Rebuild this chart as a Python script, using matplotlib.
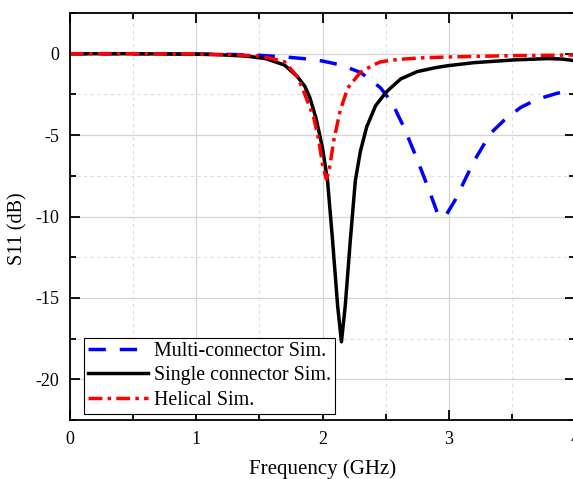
import numpy as np
import matplotlib
matplotlib.use("Agg")
import matplotlib.pyplot as plt
from matplotlib.ticker import MultipleLocator

plt.rcParams['font.family'] = ['Liberation Serif', 'DejaVu Serif']
plt.rcParams['axes.unicode_minus'] = False

####### DATA #######

# Multi-connector Sim. (blue dashed)
Freq_Multi = [0.0, 0.5, 1.0, 1.3, 1.5, 1.7, 1.85, 2.0, 2.15, 2.3, 2.38, 2.46, 2.55, 2.65, 2.75, 2.85, 2.92, 2.98, 3.05, 3.2, 3.33, 3.45, 3.57, 3.7, 3.85, 4.0]
S11_Multi = [0.0, 0.0, -0.02, -0.05, -0.1, -0.2, -0.3, -0.45, -0.7, -1.15, -1.6, -2.1, -3.0, -4.6, -6.5, -8.5, -10.0, -9.9, -9.0, -6.6, -4.9, -4.0, -3.3, -2.8, -2.45, -2.15]

# Single connector Sim. (black solid)
Freq_Single = [0.0, 0.5, 1.0, 1.2, 1.4, 1.55, 1.7, 1.8, 1.86, 1.9, 1.95, 2.0, 2.04, 2.08, 2.12, 2.15, 2.18, 2.22, 2.26, 2.3, 2.35, 2.42, 2.5, 2.54, 2.62, 2.75, 2.9, 2.99, 3.2, 3.52, 3.79, 3.9, 4.0]
S11_Single = [0.0, 0.0, -0.03, -0.07, -0.15, -0.3, -0.7, -1.4, -2.0, -2.7, -4.0, -5.8, -7.8, -11.5, -15.5, -17.7, -15.5, -11.5, -7.8, -6.0, -4.5, -3.2, -2.4, -2.1, -1.55, -1.1, -0.85, -0.74, -0.55, -0.38, -0.3, -0.33, -0.43]

# Helical Sim. (red dash-dot)
Freq_Helical = [0.0, 0.5, 1.0, 1.3, 1.5, 1.6, 1.7, 1.8, 1.85, 1.93, 1.97, 2.0, 2.03, 2.05, 2.09, 2.14, 2.2, 2.3, 2.4, 2.46, 2.6, 2.8, 3.0, 3.5, 4.0]
S11_Helical = [0.0, 0.0, -0.02, -0.06, -0.15, -0.3, -0.5, -1.4, -2.3, -3.9, -5.3, -6.8, -7.7, -7.3, -5.3, -3.5, -2.1, -1.15, -0.7, -0.5, -0.35, -0.25, -0.2, -0.12, -0.08]

line_labels = ['Multi-connector Sim.', 'Single connector Sim.', 'Helical Sim.']

####### PLOT #######

fig = plt.figure(figsize=(5.73, 4.79), dpi=100)
ax = fig.add_axes([70/573, 1-420/479, 505/573, 407/479])

ax.plot(Freq_Multi, S11_Multi, linestyle=(0, (5, 4)), color='blue', linewidth=2.5, label=line_labels[0])
ax.plot(Freq_Single, S11_Single, linestyle='-', color='black', linewidth=2.5, label=line_labels[1])
ax.plot(Freq_Helical, S11_Helical, linestyle=(0, (4, 1.5, 1, 1.5)), color='red', linewidth=2.5, label=line_labels[2])

ax.set_xlim([0, 4])
ax.set_ylim([-22.5, 2.5])
ax.xaxis.set_major_locator(MultipleLocator(1))
ax.xaxis.set_minor_locator(MultipleLocator(0.5))
ax.yaxis.set_major_locator(MultipleLocator(5))
ax.yaxis.set_minor_locator(MultipleLocator(2.5))

# grid: solid light major, dashed minor
ax.grid(True, which='major', color='#d4d4d4', linestyle='-', linewidth=0.9)
ax.grid(True, which='minor', color='#dddddd', linestyle=(0, (3, 3)), linewidth=0.8)
ax.set_axisbelow(True)

ax.tick_params(which='both', direction='in', top=True, right=True, labelsize=13, width=1.3, pad=8)
ax.tick_params(which='major', length=7)
ax.tick_params(which='minor', length=4)
for s in ax.spines.values():
    s.set_linewidth(1.3)

ax.set_xlabel('Frequency (GHz)', fontsize=15, labelpad=8)
ax.set_ylabel('S11 (dB)', fontsize=14.5)
ax.yaxis.set_label_coords(-0.085, 0.47)

leg = ax.legend(loc='lower left', bbox_to_anchor=(0.027, 0.015), fontsize=14.4, frameon=True, fancybox=False,
                edgecolor='black', framealpha=1, handlelength=3.0, borderpad=0.2, labelspacing=0.28,
                handletextpad=0.3, borderaxespad=0)
leg.get_frame().set_linewidth(0.8)

fig.savefig('out.png', dpi=100)
